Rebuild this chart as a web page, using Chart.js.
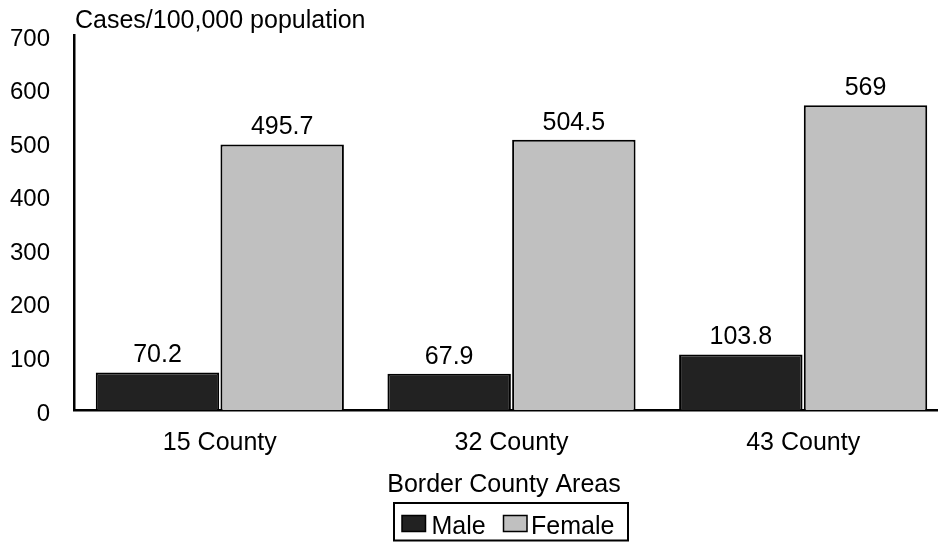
<!DOCTYPE html>
<html>
<head>
<meta charset="utf-8">
<script src="https://cdn.jsdelivr.net/npm/chart.js@4"></script>
<style>
  html, body { margin: 0; padding: 0; background: #fff; overflow: hidden; }
</style>
</head>
<body>
<canvas id="ratesChart" width="952" height="542"></canvas>
<script>
const counties = ["15 County", "32 County", "43 County"];
const maleRates = [70.2, 67.9, 103.8];
const femaleRates = [495.7, 504.5, 569];
const yCaption = "Cases/100,000 population";
const xCaption = "Border County Areas";

const FONT = '"Liberation Sans", Arial, sans-serif';
const MALE_COLOR = "#222222";
const FEMALE_COLOR = "#c0c0c0";

// value labels, axis captions and the boxed legend
const extras = {
    id: "extras",
    afterDraw(chart) {
        const ctx = chart.ctx;
        ctx.save();
        ctx.fillStyle = "#000";
        ctx.font = "25px " + FONT;
        ctx.textBaseline = "alphabetic";

        ctx.textAlign = "center";
        chart.data.datasets.forEach((ds, i) => {
            chart.getDatasetMeta(i).data.forEach((bar, j) => {
                ctx.fillText(String(ds.data[j]), bar.x, bar.y - 10);
            });
        });

        ctx.textAlign = "left";
        ctx.fillText(yCaption, 75, 28);

        ctx.textAlign = "center";
        ctx.fillText(xCaption, 504, 491.5);

        // legend
        ctx.strokeStyle = "#000";
        ctx.lineWidth = 2;
        ctx.strokeRect(394, 503, 234, 37.5);

        const items = [
            { text: "Male", color: MALE_COLOR, box: 402, tx: 431.5 },
            { text: "Female", color: FEMALE_COLOR, box: 503.5, tx: 531 }
        ];
        ctx.textAlign = "left";
        items.forEach(it => {
            ctx.fillStyle = it.color;
            ctx.fillRect(it.box, 515.5, 23.5, 16);
            ctx.lineWidth = 1.5;
            ctx.strokeRect(it.box, 515.5, 23.5, 16);
            ctx.fillStyle = "#000";
            ctx.fillText(it.text, it.tx, 533.5);
        });
        ctx.restore();
    }
};

new Chart(document.getElementById("ratesChart"), {
    type: "bar",
    data: {
        labels: counties,
        datasets: [
            {
                label: "Male",
                data: maleRates,
                backgroundColor: MALE_COLOR,
                borderColor: "#000",
                borderWidth: 2,
                borderSkipped: "start"
            },
            {
                label: "Female",
                data: femaleRates,
                backgroundColor: FEMALE_COLOR,
                borderColor: "#000",
                borderWidth: 2,
                borderSkipped: "start"
            }
        ]
    },
    options: {
        responsive: false,
        animation: false,
        categoryPercentage: 0.855,
        barPercentage: 0.99,
        layout: { padding: { top: 35, right: 3, left: 0, bottom: 0 } },
        plugins: {
            legend: { display: false },
            tooltip: { enabled: false }
        },
        scales: {
            x: {
                grid: { display: false, drawTicks: false },
                border: { display: true, color: "#000", width: 2.5 },
                ticks: { color: "#000", padding: 18, font: { family: FONT, size: 25 } },
                afterFit(scale) {
                    scale.height = 132;
                    scale.paddingLeft = 0;
                    scale.paddingRight = 0;
                }
            },
            y: {
                min: 0,
                max: 700,
                grid: { display: false, drawTicks: false },
                border: { display: true, color: "#000", width: 2.5 },
                ticks: {
                    stepSize: 100,
                    color: "#000",
                    padding: 24,
                    labelOffset: 4,
                    font: { family: FONT, size: 24 }
                },
                afterFit(scale) {
                    scale.width = 74;
                    scale.paddingTop = 0;
                    scale.paddingBottom = 0;
                }
            }
        }
    },
    plugins: [extras]
});
</script>
</body>
</html>
